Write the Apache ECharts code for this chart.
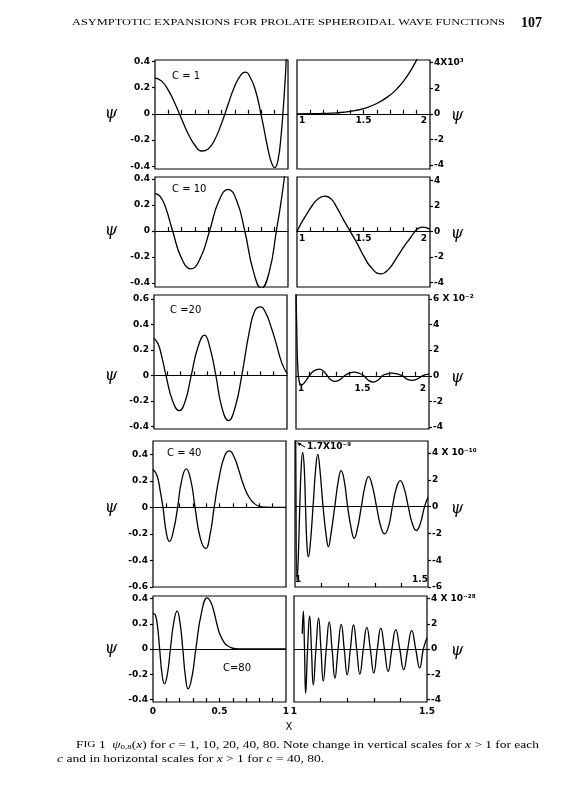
<!DOCTYPE html>
<html><head><meta charset="utf-8">
<script src="https://cdn.jsdelivr.net/npm/echarts@6/dist/echarts.min.js"></script>
<style>html,body{margin:0;padding:0;background:#fff}#c{width:588px;height:787px}</style>
</head><body><div id="c"></div>
<script>
// ---------------- data ----------------
const cValues = [1, 10, 20, 40, 80];
const cLabels = ['C = 1', 'C = 10', 'C =20', 'C = 40', 'C=80'];

// c = 1
const c1Left = [[0,0.274],[0.05,0.249],[0.1,0.18],[0.15,0.078],[0.2,-0.04],[0.25,-0.153],[0.3,-0.239],[0.35,-0.283],[0.4,-0.267],[0.45,-0.195],[0.5,-0.074],[0.55,0.073],[0.6,0.212],[0.65,0.303],[0.68,0.318],[0.7,0.307],[0.75,0.197],[0.8,-0.017],[0.85,-0.271],[0.875,-0.369],[0.9,-0.41],[0.925,-0.352],[0.95,-0.144],[0.965,0.05],[0.975,0.2],[0.985,0.38],[0.993,0.6],[1.0,0.9]];
const c1Right = [[1,0],[1.1,0.008],[1.2,0.03],[1.3,0.084],[1.4,0.197],[1.5,0.415],[1.6,0.805],[1.7,1.466],[1.75,1.95],[1.8,2.54],[1.85,3.29],[1.9,4.22],[1.95,5.3]];
// c = 10
const c10Left = [[0,0.29],[0.04,0.265],[0.08,0.18],[0.1325,0],[0.2,-0.21],[0.27,-0.29],[0.34,-0.21],[0.41,0],[0.48,0.23],[0.55,0.32],[0.615,0.23],[0.675,0],[0.74,-0.31],[0.8,-0.44],[0.86,-0.31],[0.9125,0],[0.95,0.24],[0.975,0.43],[1.0,0.65]];
const c10Right = [[1,0],[1.035,0.7],[1.07,1.3],[1.12,2.1],[1.16,2.55],[1.21,2.75],[1.26,2.5],[1.3,1.85],[1.35,0.9],[1.4,0],[1.45,-0.9],[1.5,-1.9],[1.56,-2.85],[1.63,-3.33],[1.69,-2.95],[1.75,-2.05],[1.81,-1.1],[1.85,-0.55],[1.887,0],[1.915,0.25],[1.945,0.33],[1.97,0.3],[2.0,0.15]];
// c = 20
const c20Left = [[0,0.29],[0.03,0.25],[0.06,0.14],[0.09,0],[0.14,-0.2],[0.19,-0.276],[0.235,-0.2],[0.28,0],[0.33,0.22],[0.38,0.315],[0.42,0.22],[0.465,0],[0.51,-0.25],[0.56,-0.354],[0.61,-0.25],[0.66,0],[0.72,0.36],[0.76,0.51],[0.8,0.537],[0.84,0.49],[0.88,0.38],[0.92,0.245],[0.96,0.1],[1.0,0.015]];
const c20Right = [[1.0,6.5],[1.006,3.5],[1.013,0.8],[1.025,-0.5],[1.043,-0.7],[1.07,-0.45],[1.1,0],[1.135,0.38],[1.176,0.52],[1.205,0.38],[1.235,0],[1.26,-0.3],[1.294,-0.44],[1.33,-0.3],[1.365,0],[1.4,0.2],[1.437,0.29],[1.475,0.2],[1.51,0],[1.545,-0.35],[1.583,-0.49],[1.615,-0.35],[1.65,0],[1.685,0.15],[1.721,0.21],[1.76,0.15],[1.8,0],[1.835,-0.26],[1.872,-0.36],[1.91,-0.26],[1.95,0],[2.0,0.13]];
// c = 40
const c40Left = [[0,0.285],[0.03,0.24],[0.055,0.12],[0.075,0],[0.1,-0.19],[0.123,-0.257],[0.155,-0.17],[0.185,0],[0.215,0.2],[0.25,0.29],[0.285,0.2],[0.316,0],[0.355,-0.23],[0.396,-0.31],[0.43,-0.2],[0.46,0],[0.5,0.24],[0.54,0.39],[0.574,0.425],[0.61,0.38],[0.645,0.28],[0.68,0.17],[0.72,0.08],[0.76,0.03],[0.8,0.008],[0.85,0.001],[0.9,0],[1.0,0]];
const c40Right = [[1.0,17],[1.003,4],[1.0075,-5.5],[1.012,-4],[1.018,0],[1.0235,3],[1.0289,4.05],[1.0345,3],[1.0396,0],[1.045,-2.9],[1.0503,-3.73],[1.057,-2.9],[1.0678,0],[1.078,2.9],[1.0854,3.9],[1.093,2.9],[1.1055,0],[1.1175,-2.2],[1.1256,-2.99],[1.134,-2.2],[1.1495,0],[1.163,1.95],[1.1734,2.69],[1.185,1.95],[1.1979,0],[1.212,-1.7],[1.2224,-2.36],[1.234,-1.7],[1.2494,0],[1.264,1.6],[1.2764,2.24],[1.29,1.6],[1.3066,0],[1.322,-1.45],[1.3367,-2.04],[1.352,-1.45],[1.3662,0],[1.381,1.38],[1.3957,1.94],[1.41,1.38],[1.4259,0],[1.441,-1.27],[1.456,-1.79],[1.471,-1.27],[1.487,0],[1.5,0.7]];
// c = 80
const c80Left = [[0,0.28],[0.018,0.27],[0.035,0.17],[0.05,0],[0.068,-0.2],[0.086,-0.276],[0.108,-0.2],[0.131,0],[0.156,0.21],[0.181,0.3],[0.203,0.21],[0.224,0],[0.244,-0.22],[0.264,-0.316],[0.293,-0.22],[0.322,0],[0.365,0.29],[0.408,0.405],[0.435,0.37],[0.458,0.295],[0.48,0.2],[0.5,0.125],[0.53,0.06],[0.56,0.025],[0.6,0.006],[0.65,0.001],[0.7,0],[1.0,0]];
const c80Right = [[1.031,1.2],[1.035,3.0],[1.0395,0],[1.0438,-3.5],[1.051,0],[1.0588,2.6],[1.0656,0],[1.0725,-2.85],[1.0825,0],[1.0925,2.45],[1.1013,0],[1.11,-2.55],[1.1213,0],[1.1325,2.15],[1.1431,0],[1.1538,-2.3],[1.1656,0],[1.1775,1.95],[1.1888,0],[1.2,-2.05],[1.2119,0],[1.2238,1.9],[1.2356,0],[1.2475,-1.98],[1.2606,0],[1.2738,1.72],[1.2869,0],[1.3,-1.9],[1.3131,0],[1.3263,1.65],[1.34,0],[1.3538,-1.77],[1.3681,0],[1.3825,1.53],[1.3975,0],[1.4125,-1.64],[1.4275,0],[1.4425,1.45],[1.4575,0],[1.4725,-1.5],[1.4863,0],[1.5,0.9]];

const leftSeries = [c1Left, c10Left, c20Left, c40Left, c80Left];
const rightSeries = [c1Right, c10Right, c20Right, c40Right, c80Right];

// tick labels
const leftYTicks = [[0.4,0.2,0,-0.2,-0.4],[0.4,0.2,0,-0.2,-0.4],[0.6,0.4,0.2,0,-0.2,-0.4],[0.4,0.2,0,-0.2,-0.4,-0.6],[0.4,0.2,0,-0.2,-0.4]];
const rightYTicks = [[4,2,0,-2,-4],[4,2,0,-2,-4],[6,4,2,0,-2,-4],[4,2,0,-2,-4,-6],[4,2,0,-2,-4]];
const rightTopLabels = ['4X10³', '4', '6 X 10⁻²', '4 X 10⁻¹⁰', '4 X 10⁻²⁸'];
const leftXTicks = [0.1,0.2,0.3,0.4,0.5,0.6,0.7,0.8,0.9];
const leftXLabels = [0, 0.5, 1];
const rightXTicksWide = [1.1,1.2,1.3,1.4,1.5,1.6,1.7,1.8,1.9];
const rightXLabelsWide = [1, 1.5, 2];
const rightXTicksNarrow = [1.1,1.2,1.3,1.4];
const rightXLabelsNarrow = [1, 1.5];
const offScaleNote = '1.7X10⁻⁹';

// ---------------- layout ----------------
const rows = [
  {top:60,  bottom:169, lx:155, rx:297, ly:[-0.42,0.41], ry:[-4.3,4.2], rxMax:2, labDy:7},
  {top:177, bottom:287, lx:155, rx:297, ly:[-0.43,0.415], ry:[-4.35,4.25], rxMax:2, labDy:7},
  {top:295, bottom:429, lx:154, rx:296, ly:[-0.42,0.63], ry:[-4.15,6.3], rxMax:2, labDy:13},
  {top:441, bottom:587, lx:153, rx:295, ly:[-0.6,0.5], ry:[-6,4.9], rxMax:1.5},
  {top:596, bottom:702, lx:153, rx:294, ly:[-0.42,0.42], ry:[-4.2,4.2], rxMax:1.5}
];
const PW = 133;
const FONT = 'DejaVu Sans';
const lab = {color:'#000', fontFamily:FONT, fontSize:9, fontWeight:'bold'};
const black = {color:'#000', width:1.2};

const grid = [], xAxis = [], yAxis = [], series = [];
const fmtL = v => v === 0 ? '0' : (v < 0 ? '-' : '') + Math.abs(v).toFixed(1);
const fmtX = v => v === 0 ? '0' : v === 1 ? '1' : v === 2 ? '2' : v === 0.5 ? '0.5' : '1.5';

rows.forEach((r, i) => {
  const h = r.bottom - r.top;
  const last = i === 4;
  grid.push({left:r.lx, top:r.top, width:PW, height:h, show:true, borderColor:'#000', borderWidth:1.2, outerBoundsMode:'none'});
  grid.push({left:r.rx, top:r.top, width:PW, height:h, show:true, borderColor:'#000', borderWidth:1.2, outerBoundsMode:'none'});
  // left x axis
  xAxis.push({
    gridIndex:2*i, type:'value', min:0, max:1,
    axisLine:{show:!last, onZero:!last, lineStyle:black},
    axisTick:{show:true, inside:true, length:4, customValues:leftXTicks, lineStyle:black},
    axisLabel:Object.assign({show:last, customValues:leftXLabels, margin:5, formatter:fmtX}, lab),
    splitLine:{show:false}
  });
  // right x axis (labels of the wide panels are drawn next to the zero line below)
  const wide = r.rxMax === 2;
  xAxis.push({
    gridIndex:2*i+1, type:'value', min:1, max:r.rxMax,
    axisLine:{show:wide, onZero:wide, lineStyle:black},
    axisTick:{show:true, inside:true, length:4, customValues: wide ? rightXTicksWide : rightXTicksNarrow, lineStyle:black},
    axisLabel:Object.assign({show:!wide, customValues:rightXLabelsNarrow,
      margin: i === 3 ? 3 : 5, inside: i === 3,
      alignMinLabel: i === 3 ? 'left' : 'center',
      alignMaxLabel: i === 3 ? 'right' : 'center',
      formatter:fmtX}, lab),
    splitLine:{show:false}
  });
  // left y axis
  yAxis.push({
    gridIndex:2*i, type:'value', min:r.ly[0], max:r.ly[1], position:'left',
    axisLine:{show:false},
    axisTick:{show:true, inside:false, length:3, customValues:leftYTicks[i], lineStyle:black},
    axisLabel:Object.assign({customValues:leftYTicks[i], margin:5, formatter:fmtL}, lab),
    splitLine:{show:false}
  });
  // right y axis
  const topV = rightYTicks[i][0];
  yAxis.push({
    gridIndex:2*i+1, type:'value', min:r.ry[0], max:r.ry[1], position:'right',
    axisLine:{show:false},
    axisTick:{show:true, inside:false, length:3, customValues:rightYTicks[i], lineStyle:black},
    axisLabel:Object.assign({customValues:rightYTicks[i], margin:4,
      formatter:v => v === topV ? rightTopLabels[i] : String(v)}, lab),
    splitLine:{show:false}
  });
  const zeroLine = {silent:true, symbol:['none','none'], label:{show:false},
    lineStyle:{type:'solid', color:'#000', width:1.2}, data:[{yAxis:0}], animation:false};
  series.push({
    type:'line', xAxisIndex:2*i, yAxisIndex:2*i, data:leftSeries[i], smooth:true,
    showSymbol:false, clip:true, lineStyle:{color:'#000', width:1.3},
    markLine: last ? zeroLine : undefined
  });
  series.push({
    type:'line', xAxisIndex:2*i+1, yAxisIndex:2*i+1, data:rightSeries[i], smooth:true,
    showSymbol:false, clip:true, lineStyle:{color:'#000', width:1.3},
    markLine: wide ? undefined : zeroLine
  });
});

const chart = echarts.init(document.getElementById('c'), null, {width:588, height:787});
chart.setOption({animation:false, backgroundColor:'#fff', grid, xAxis, yAxis, series});

// ---------------- text annotations ----------------
const cv = document.createElement('canvas').getContext('2d');
function fitScale(text, font, target) { cv.font = font; return target / cv.measureText(text).width; }

const g = [];
const headerText = 'ASYMPTOTIC EXPANSIONS FOR PROLATE SPHEROIDAL WAVE FUNCTIONS';
const hFont = '9px "Liberation Serif"';
g.push({type:'text', x:72, y:23, scaleX:fitScale(headerText, hFont, 433),
  style:{text:headerText, font:hFont, fill:'#000', textVerticalAlign:'middle'}});
g.push({type:'text', x:521, y:23, style:{text:'107', font:'bold 14px "Liberation Serif"', fill:'#000', textVerticalAlign:'middle'}});

const psiFont = 'italic 16px "DejaVu Serif"';
const labFont = 'bold 9px "DejaVu Sans"';
const cPos = [[172,76],[172,189],[170,310],[167,453],[223,668]];
rows.forEach((r, i) => {
  const yl = chart.convertToPixel({yAxisIndex:2*i}, 0);
  const yr = chart.convertToPixel({yAxisIndex:2*i+1}, 0);
  g.push({type:'text', x:111, y:yl, style:{text:'ψ', font:psiFont, fill:'#000', textAlign:'center', textVerticalAlign:'middle'}});
  g.push({type:'text', x:457, y:yr + 2, style:{text:'ψ', font:psiFont, fill:'#000', textAlign:'center', textVerticalAlign:'middle'}});
  g.push({type:'text', x:cPos[i][0], y:cPos[i][1], style:{text:cLabels[i], font:'10px "DejaVu Sans"', fill:'#000', textVerticalAlign:'middle'}});
  if (r.rxMax === 2) {
    rightXLabelsWide.forEach((v, k) => {
      const px = chart.convertToPixel({xAxisIndex:2*i+1}, v);
      const align = k === 0 ? 'left' : k === rightXLabelsWide.length - 1 ? 'right' : 'center';
      const dx = k === 0 ? 2 : k === rightXLabelsWide.length - 1 ? -3 : 0;
      g.push({type:'text', x:px + dx, y:yr + r.labDy, style:{text:fmtX(v), font:labFont, fill:'#000', textAlign:align, textVerticalAlign:'middle'}});
    });
  }
});
// off-scale note in c=40 right panel
g.push({type:'line', shape:{x1:305, y1:447, x2:298, y2:443}, style:{stroke:'#000', lineWidth:1}});
g.push({type:'polygon', shape:{points:[[297,442.5],[301.5,443.2],[299.6,446.3]]}, style:{fill:'#000'}});
g.push({type:'text', x:307, y:447, style:{text:offScaleNote, font:labFont, fill:'#000', textVerticalAlign:'middle'}});
// x axis name
g.push({type:'text', x:289, y:727, style:{text:'X', font:'10px "DejaVu Sans"', fill:'#000', textAlign:'center', textVerticalAlign:'middle'}});
// caption
const capFont = '10.5px "Liberation Serif"';
const cap1Plain = 'FIG 1  ψ0,8(x) for c = 1, 10, 20, 40, 80. Note change in vertical scales for x > 1 for each';
const cap2Plain = 'c and in horizontal scales for x > 1 for c = 40, 80.';
const rich = {
  sc:{fontFamily:'Liberation Serif', fontSize:9, fill:'#000'},
  i:{fontFamily:'Liberation Serif', fontSize:10.5, fontStyle:'italic', fill:'#000'},
  s:{fontFamily:'Liberation Serif', fontSize:7, fill:'#000', padding:[5,0,0,0]},
  n:{fontFamily:'Liberation Serif', fontSize:10.5, fill:'#000'}
};
g.push({type:'text', x:76, y:745, scaleX:fitScale(cap1Plain, capFont, 472),
  style:{text:'{n|F}{sc|IG} {n|1  }{i|ψ}{s|0,8}{n|(}{i|x}{n|) for }{i|c}{n| = 1, 10, 20, 40, 80. Note change in vertical scales for }{i|x}{n| > 1 for each}',
    rich, font:capFont, fill:'#000', textVerticalAlign:'middle'}});
g.push({type:'text', x:57, y:759, scaleX:fitScale(cap2Plain, capFont, 268),
  style:{text:'{i|c}{n| and in horizontal scales for }{i|x}{n| > 1 for }{i|c}{n| = 40, 80.}',
    rich, font:capFont, fill:'#000', textVerticalAlign:'middle'}});

chart.setOption({graphic:g});
</script></body></html>
